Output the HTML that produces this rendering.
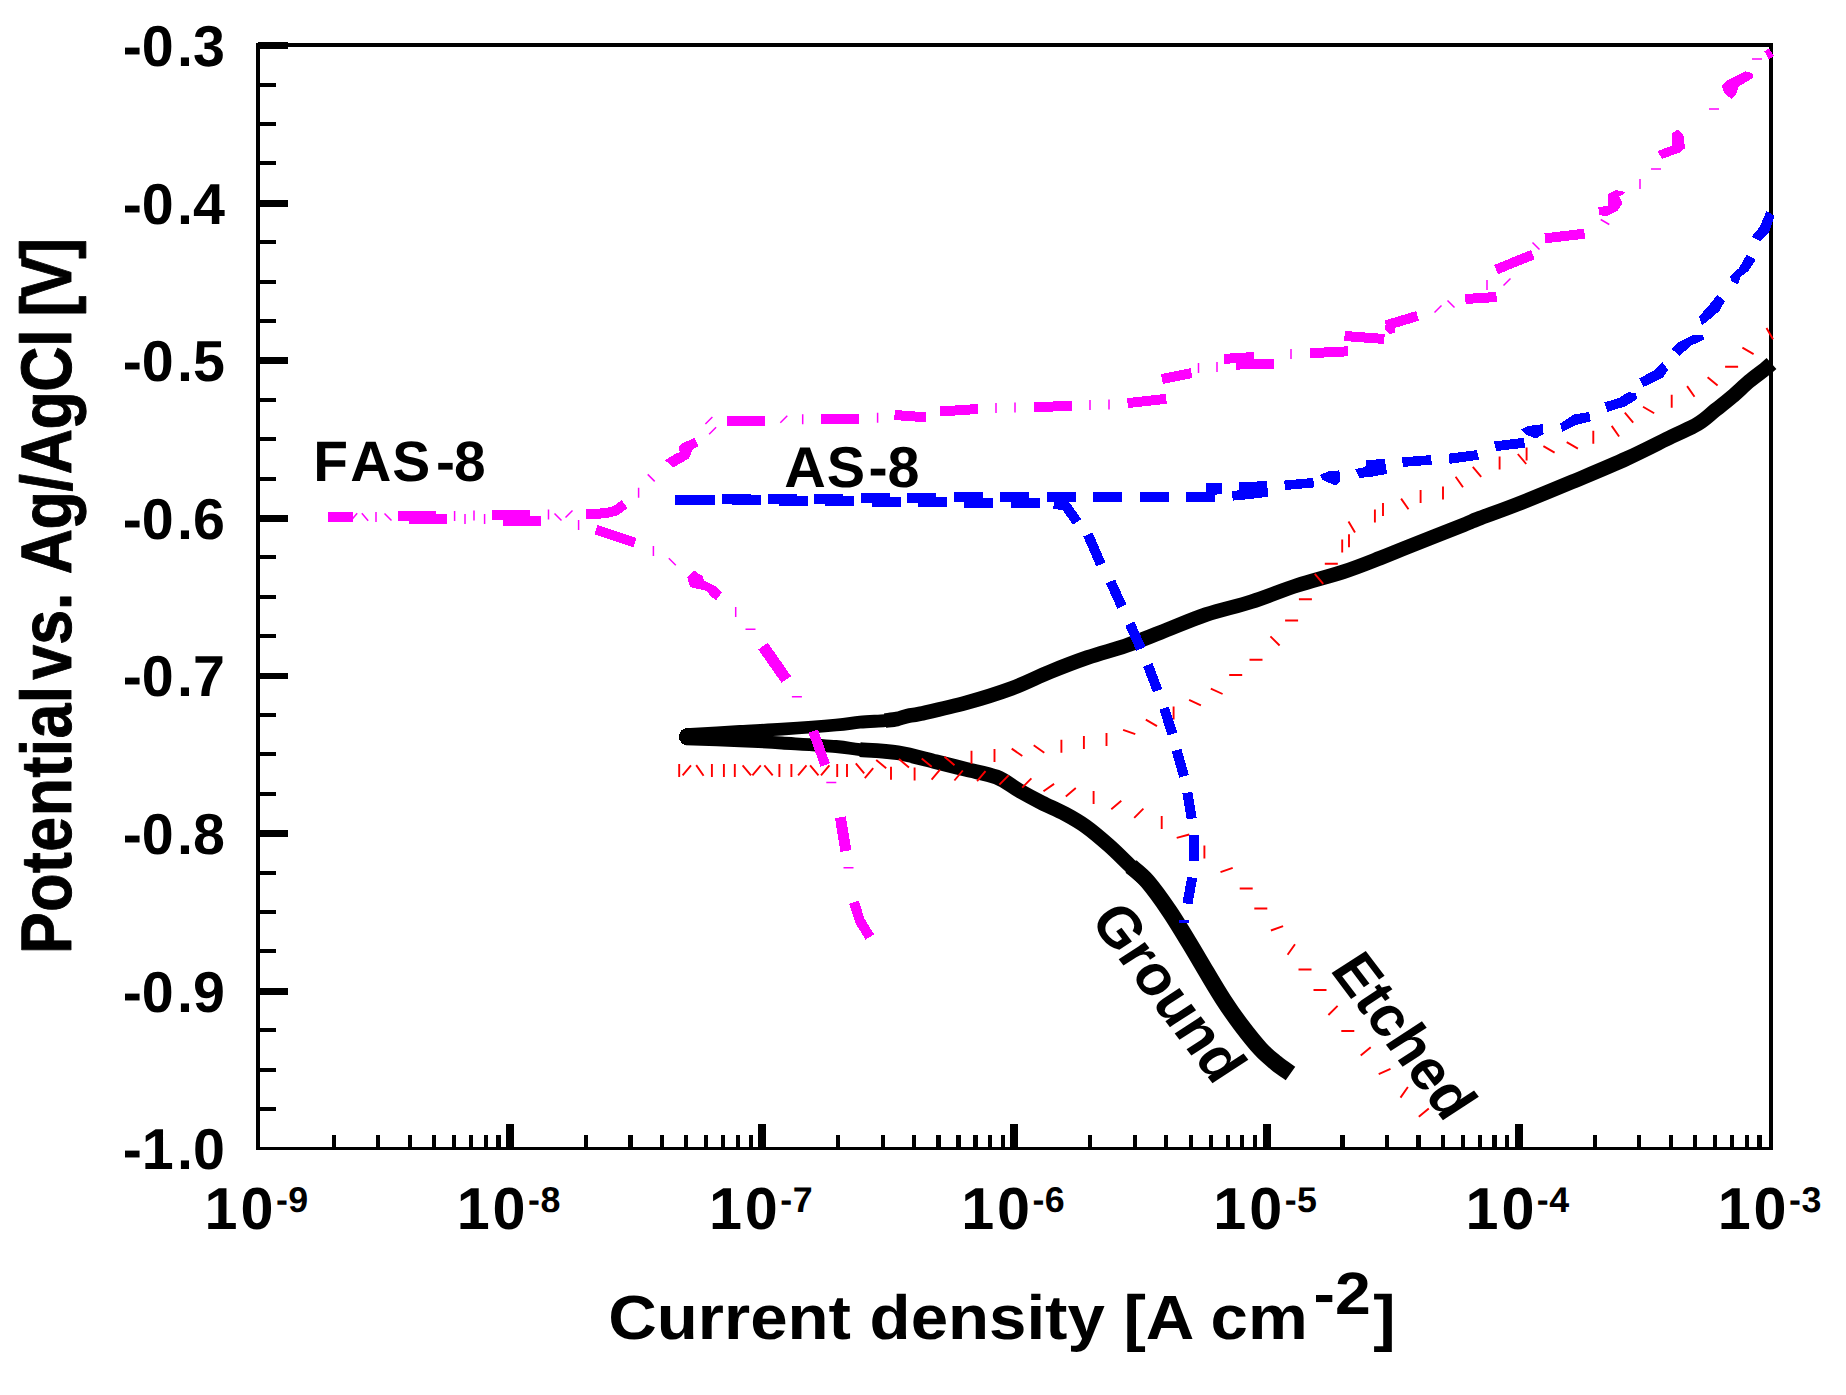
<!DOCTYPE html>
<html><head><meta charset="utf-8"><title>Polarization curves</title>
<style>
html,body{margin:0;padding:0;background:#fff;}
body{width:1846px;height:1395px;overflow:hidden;}
svg{display:block;}
text{font-family:"Liberation Sans",sans-serif;font-weight:bold;fill:#000;}
</style></head><body>
<svg width="1846" height="1395" viewBox="0 0 1846 1395" shape-rendering="crispEdges" text-rendering="geometricPrecision">
<rect width="1846" height="1395" fill="#fff"/>
<g fill="#000">
<rect x="256" y="43" width="4" height="1107"/>
<rect x="1769" y="43" width="4" height="1107"/>
<rect x="256" y="43" width="1517" height="4"/>
<rect x="256" y="1147" width="1517" height="3"/>
<rect x="257.90" y="42.20" width="30.2" height="6.8"/>
<rect x="257.90" y="82.60" width="18" height="4"/>
<rect x="257.90" y="122.01" width="18" height="4"/>
<rect x="257.90" y="161.41" width="18" height="4"/>
<rect x="257.90" y="199.81" width="30.2" height="6.8"/>
<rect x="257.90" y="240.22" width="18" height="4"/>
<rect x="257.90" y="279.62" width="18" height="4"/>
<rect x="257.90" y="319.02" width="18" height="4"/>
<rect x="257.90" y="357.43" width="30.2" height="6.8"/>
<rect x="257.90" y="397.83" width="18" height="4"/>
<rect x="257.90" y="437.24" width="18" height="4"/>
<rect x="257.90" y="476.64" width="18" height="4"/>
<rect x="257.90" y="515.04" width="30.2" height="6.8"/>
<rect x="257.90" y="555.45" width="18" height="4"/>
<rect x="257.90" y="594.85" width="18" height="4"/>
<rect x="257.90" y="634.25" width="18" height="4"/>
<rect x="257.90" y="672.66" width="30.2" height="6.8"/>
<rect x="257.90" y="713.06" width="18" height="4"/>
<rect x="257.90" y="752.46" width="18" height="4"/>
<rect x="257.90" y="791.87" width="18" height="4"/>
<rect x="257.90" y="830.27" width="30.2" height="6.8"/>
<rect x="257.90" y="870.67" width="18" height="4"/>
<rect x="257.90" y="910.08" width="18" height="4"/>
<rect x="257.90" y="949.48" width="18" height="4"/>
<rect x="257.90" y="987.89" width="30.2" height="6.8"/>
<rect x="257.90" y="1028.29" width="18" height="4"/>
<rect x="257.90" y="1067.69" width="18" height="4"/>
<rect x="257.90" y="1107.10" width="18" height="4"/>
<rect x="331.72" y="1135" width="4.2" height="13"/>
<rect x="376.13" y="1135" width="4.2" height="13"/>
<rect x="407.63" y="1135" width="4.2" height="13"/>
<rect x="432.07" y="1135" width="4.2" height="13"/>
<rect x="452.04" y="1135" width="4.2" height="13"/>
<rect x="468.93" y="1135" width="4.2" height="13"/>
<rect x="483.55" y="1135" width="4.2" height="13"/>
<rect x="496.45" y="1135" width="4.2" height="13"/>
<rect x="506.09" y="1124" width="8" height="24"/>
<rect x="583.91" y="1135" width="4.2" height="13"/>
<rect x="628.32" y="1135" width="4.2" height="13"/>
<rect x="659.83" y="1135" width="4.2" height="13"/>
<rect x="684.27" y="1135" width="4.2" height="13"/>
<rect x="704.23" y="1135" width="4.2" height="13"/>
<rect x="721.12" y="1135" width="4.2" height="13"/>
<rect x="735.74" y="1135" width="4.2" height="13"/>
<rect x="748.64" y="1135" width="4.2" height="13"/>
<rect x="758.28" y="1124" width="8" height="24"/>
<rect x="836.10" y="1135" width="4.2" height="13"/>
<rect x="880.51" y="1135" width="4.2" height="13"/>
<rect x="912.02" y="1135" width="4.2" height="13"/>
<rect x="936.46" y="1135" width="4.2" height="13"/>
<rect x="956.43" y="1135" width="4.2" height="13"/>
<rect x="973.31" y="1135" width="4.2" height="13"/>
<rect x="987.94" y="1135" width="4.2" height="13"/>
<rect x="1000.84" y="1135" width="4.2" height="13"/>
<rect x="1010.48" y="1124" width="8" height="24"/>
<rect x="1088.29" y="1135" width="4.2" height="13"/>
<rect x="1132.70" y="1135" width="4.2" height="13"/>
<rect x="1164.21" y="1135" width="4.2" height="13"/>
<rect x="1188.65" y="1135" width="4.2" height="13"/>
<rect x="1208.62" y="1135" width="4.2" height="13"/>
<rect x="1225.50" y="1135" width="4.2" height="13"/>
<rect x="1240.13" y="1135" width="4.2" height="13"/>
<rect x="1253.03" y="1135" width="4.2" height="13"/>
<rect x="1262.67" y="1124" width="8" height="24"/>
<rect x="1340.48" y="1135" width="4.2" height="13"/>
<rect x="1384.89" y="1135" width="4.2" height="13"/>
<rect x="1416.40" y="1135" width="4.2" height="13"/>
<rect x="1440.84" y="1135" width="4.2" height="13"/>
<rect x="1460.81" y="1135" width="4.2" height="13"/>
<rect x="1477.69" y="1135" width="4.2" height="13"/>
<rect x="1492.32" y="1135" width="4.2" height="13"/>
<rect x="1505.22" y="1135" width="4.2" height="13"/>
<rect x="1514.86" y="1124" width="8" height="24"/>
<rect x="1592.68" y="1135" width="4.2" height="13"/>
<rect x="1637.08" y="1135" width="4.2" height="13"/>
<rect x="1668.59" y="1135" width="4.2" height="13"/>
<rect x="1693.03" y="1135" width="4.2" height="13"/>
<rect x="1713.00" y="1135" width="4.2" height="13"/>
<rect x="1729.89" y="1135" width="4.2" height="13"/>
<rect x="1744.51" y="1135" width="4.2" height="13"/>
<rect x="1757.41" y="1135" width="4.2" height="13"/>
</g>
<path d="M686.0,734.6 C695.0,734.1 724.0,732.4 740.0,731.5 C756.0,730.6 766.0,730.3 782.0,729.2 C798.0,728.1 823.0,726.2 836.0,725.0 C849.0,723.8 851.8,722.9 860.0,722.2 C868.2,721.5 878.8,721.1 885.0,720.6 C891.2,720.1 895.0,719.3 897.0,719.0" fill="none" stroke="#000000" stroke-width="12.8" stroke-linecap="butt" stroke-linejoin="round" shape-rendering="auto"/>
<path d="M885.0,720.6 C887.0,720.3 893.2,719.8 897.0,719.0 C900.8,718.2 904.0,716.7 908.0,715.8 C912.0,714.9 911.0,715.8 920.7,713.6 C930.4,711.4 951.0,706.9 966.2,702.7 C981.4,698.5 997.8,693.4 1011.7,688.3 C1025.6,683.2 1037.0,677.0 1049.6,671.9 C1062.2,666.8 1074.9,661.9 1087.5,657.5 C1100.1,653.1 1113.2,650.0 1125.4,645.8 C1137.6,641.6 1147.2,637.6 1160.7,632.4 C1174.2,627.2 1191.0,619.6 1206.2,614.5 C1221.4,609.4 1236.5,606.5 1251.7,601.6 C1266.9,596.8 1282.0,590.3 1297.2,585.4 C1312.4,580.5 1328.9,576.5 1342.7,572.0 C1356.5,567.5 1369.0,562.4 1380.0,558.1 C1391.0,553.9 1395.0,552.0 1408.9,546.5 C1422.8,541.0 1451.9,529.6 1463.4,525.0 C1474.9,520.4 1468.9,522.4 1478.0,518.9 C1487.1,515.4 1502.2,510.2 1517.9,504.0 C1533.6,497.8 1554.2,489.4 1572.3,481.8 C1590.4,474.2 1610.2,466.1 1626.8,458.5 C1643.4,450.9 1660.0,442.2 1671.8,436.5 C1683.6,430.8 1690.4,428.3 1697.6,424.0 C1704.8,419.7 1709.1,415.1 1714.8,410.6 C1720.5,406.1 1726.3,401.7 1732.0,396.8 C1737.7,391.9 1743.8,385.9 1749.2,381.3 C1754.7,376.7 1761.0,372.3 1764.7,369.3 C1768.4,366.3 1770.4,364.5 1771.5,363.5" fill="none" stroke="#000000" stroke-width="14.6" stroke-linecap="butt" stroke-linejoin="round" shape-rendering="auto"/>
<path d="M686.0,738.8 C695.0,739.1 724.0,740.1 740.0,740.8 C756.0,741.5 766.0,742.0 782.0,743.0 C798.0,744.0 823.0,745.4 836.0,746.5 C849.0,747.6 849.7,748.7 860.0,749.7 C870.3,750.8 891.6,752.3 897.9,752.8" fill="none" stroke="#000000" stroke-width="12.8" stroke-linecap="butt" stroke-linejoin="round" shape-rendering="auto"/>
<path d="M860.0,749.7 C866.3,750.2 885.3,750.8 897.9,752.8 C910.5,754.8 924.4,759.0 935.8,761.8 C947.2,764.6 956.1,766.9 966.2,769.4 C976.3,771.9 987.6,773.5 996.5,777.0 C1005.4,780.5 1011.7,786.3 1019.3,790.6 C1026.9,794.9 1034.4,798.9 1042.0,802.8 C1049.6,806.6 1057.5,809.8 1064.8,813.7 C1072.0,817.6 1078.1,820.9 1085.5,826.2 C1092.9,831.5 1101.4,838.8 1109.0,845.5 C1116.6,852.2 1124.6,860.5 1131.0,866.5 C1137.4,872.5 1144.8,879.0 1147.5,881.5" fill="none" stroke="#000000" stroke-width="14.8" stroke-linecap="butt" stroke-linejoin="round" shape-rendering="auto"/>
<path d="M1131.0,866.5 C1133.8,869.0 1141.1,874.0 1147.5,881.5 C1153.9,889.0 1162.7,901.3 1169.5,911.3 C1176.3,921.3 1182.3,931.6 1188.5,941.7 C1194.7,951.8 1200.7,962.3 1206.5,972.0 C1212.3,981.7 1217.8,991.1 1223.5,999.9 C1229.2,1008.7 1234.8,1016.8 1241.0,1025.0 C1247.2,1033.2 1254.7,1042.7 1260.5,1049.0 C1266.3,1055.3 1271.0,1058.9 1276.0,1063.0 C1281.0,1067.1 1288.1,1071.8 1290.5,1073.5" fill="none" stroke="#000000" stroke-width="16.5" stroke-linecap="butt" stroke-linejoin="round" shape-rendering="auto"/>
<ellipse cx="687" cy="736.7" rx="8" ry="8.6" fill="#000000"/>
<path d="M679.2,776.9L679.2,763.9 M682.6,775.4L691.0,765.4 M703.6,775.7L696.2,765.1 M711.9,776.9L711.9,763.9 M723.9,776.9L723.9,763.9 M734.8,776.9L734.8,763.9 M751.0,775.4L742.6,765.4 M752.4,775.4L760.8,765.4 M772.7,775.4L764.3,765.4 M779.4,776.9L779.4,763.9 M791.4,776.9L791.4,763.9 M798.1,775.4L806.5,765.4 M818.5,775.4L810.1,765.4 M821.0,775.4L829.4,765.4 M837.2,776.9L837.2,763.9 M847.0,776.9L847.0,763.9" fill="none" stroke="#ff0000" stroke-width="1.9" shape-rendering="auto"/>
<path d="M864.8,778.2L873.2,768.2 M891.0,779.7L891.0,766.7 M914.6,780.5L914.6,767.5 M931.6,779.7L940.0,769.7 M954.4,780.5L962.8,770.5 M977.1,781.2L985.5,771.2 M999.4,784.6L1008.6,775.4 M1022.2,787.6L1031.4,778.4 M1043.5,791.3L1054.1,783.9 M1065.8,796.4L1075.8,788.0 M1093.6,804.0L1093.6,791.0 M1111.3,809.2L1121.3,800.8 M1134.2,817.9L1143.4,808.7 M1161.7,828.9L1161.7,815.9 M1176.7,837.9L1189.3,834.5 M1204.4,858.4L1204.4,845.4 M1220.5,872.2L1232.7,867.8 M1239.7,888.5L1252.7,888.5 M1254.3,908.5L1267.3,908.5 M1270.9,930.5L1283.1,926.1 M1287.6,954.8L1295.0,944.2 M1298.5,969.5L1311.5,969.5 M1313.5,990.0L1326.5,990.0 M1328.4,1015.0L1337.6,1005.8 M1341.3,1031.0L1354.3,1031.0 M1360.7,1055.6L1370.7,1047.2 M1378.7,1074.2L1390.5,1068.8 M1400.5,1097.6L1407.9,1087.0 M1418.8,1116.8L1428.8,1108.4" fill="none" stroke="#ff0000" stroke-width="1.9" shape-rendering="auto"/>
<path d="M864.2,773.3L855.8,763.3 M886.2,768.3L876.2,759.9 M909.0,767.5L899.0,759.1 M931.7,766.8L921.7,758.4 M954.5,765.2L944.5,756.8 M971.5,763.8L971.5,750.8 M994.5,761.9L994.5,748.9 M1022.3,756.0L1011.7,748.6 M1044.3,752.7L1033.7,745.3 M1061.4,752.8L1061.4,739.8 M1083.9,748.9L1083.9,735.9 M1106.5,745.9L1106.5,732.9 M1135.3,734.2L1123.1,729.8 M1157.0,726.1L1145.8,719.6 M1173.6,719.5L1173.6,706.5 M1200.9,705.3L1189.1,699.9 M1222.6,694.0L1210.8,688.6 M1229.2,675.0L1242.2,675.0 M1249.5,659.7L1262.5,659.7 M1279.6,645.5L1270.4,636.3 M1285.1,620.5L1298.1,620.5 M1298.9,599.2L1311.9,599.2 M1323.2,583.8L1314.8,573.8 M1324.8,563.8L1337.8,563.8 M1342.2,552.5L1342.2,539.5 M1349.0,547.2L1349.0,534.2 M1355.0,532.6L1348.5,521.4 M1374.9,522.5L1374.9,509.5 M1383.0,515.9L1383.0,502.9 M1408.5,509.2L1401.1,498.6 M1420.6,503.1L1420.6,490.1 M1443.0,499.5L1443.0,486.5 M1463.0,487.3L1455.6,476.7 M1481.2,476.8L1472.8,466.8 M1499.6,469.5L1499.6,456.5 M1526.2,464.0L1517.8,454.0 M1526.6,460.5L1526.6,447.5 M1554.6,452.6L1543.4,446.1 M1577.9,448.6L1566.7,442.1 M1593.3,443.7L1593.3,430.7 M1619.1,436.5L1611.7,425.9 M1633.2,422.6L1624.8,412.6 M1654.2,413.2L1643.0,406.8 M1671.7,407.7L1671.7,394.7 M1694.5,396.7L1687.1,386.1 M1717.6,385.6L1707.6,377.2 M1725.1,366.8L1738.1,366.8 M1753.6,354.1L1742.4,347.6 M1773.0,339.2L1766.5,328.0" fill="none" stroke="#ff0000" stroke-width="1.9" shape-rendering="auto"/>
<path d="M675.0,499.8 L704.0,499.8" fill="none" stroke="#0000ff" stroke-width="10" stroke-linecap="butt" stroke-linejoin="round" />
<path d="M721.5,499.4 L750.5,499.4" fill="none" stroke="#0000ff" stroke-width="10" stroke-linecap="butt" stroke-linejoin="round" />
<path d="M767.9,499.0 L796.9,499.0" fill="none" stroke="#0000ff" stroke-width="10" stroke-linecap="butt" stroke-linejoin="round" />
<path d="M814.4,498.6 L843.4,498.6" fill="none" stroke="#0000ff" stroke-width="10" stroke-linecap="butt" stroke-linejoin="round" />
<path d="M860.8,498.2 L889.8,498.2" fill="none" stroke="#0000ff" stroke-width="10" stroke-linecap="butt" stroke-linejoin="round" />
<path d="M907.2,497.8 L936.2,497.8" fill="none" stroke="#0000ff" stroke-width="10" stroke-linecap="butt" stroke-linejoin="round" />
<path d="M953.7,497.4 L982.7,497.4" fill="none" stroke="#0000ff" stroke-width="10" stroke-linecap="butt" stroke-linejoin="round" />
<path d="M1000.2,497.0 L1029.2,497.0" fill="none" stroke="#0000ff" stroke-width="10" stroke-linecap="butt" stroke-linejoin="round" />
<path d="M1046.6,497.0 L1075.6,497.0" fill="none" stroke="#0000ff" stroke-width="10" stroke-linecap="butt" stroke-linejoin="round" />
<path d="M1093.0,497.0 L1122.0,497.0" fill="none" stroke="#0000ff" stroke-width="10" stroke-linecap="butt" stroke-linejoin="round" />
<path d="M1139.5,497.0 L1168.5,497.0" fill="none" stroke="#0000ff" stroke-width="10" stroke-linecap="butt" stroke-linejoin="round" />
<path d="M685.7,499.8 L714.7,499.8" fill="none" stroke="#0000ff" stroke-width="10" stroke-linecap="butt" stroke-linejoin="round" />
<path d="M732.2,500.3 L761.2,500.3" fill="none" stroke="#0000ff" stroke-width="10" stroke-linecap="butt" stroke-linejoin="round" />
<path d="M778.6,500.8 L807.6,500.8" fill="none" stroke="#0000ff" stroke-width="10" stroke-linecap="butt" stroke-linejoin="round" />
<path d="M825.1,501.3 L854.1,501.3" fill="none" stroke="#0000ff" stroke-width="10" stroke-linecap="butt" stroke-linejoin="round" />
<path d="M871.5,501.9 L900.5,501.9" fill="none" stroke="#0000ff" stroke-width="10" stroke-linecap="butt" stroke-linejoin="round" />
<path d="M918.0,502.4 L947.0,502.4" fill="none" stroke="#0000ff" stroke-width="10" stroke-linecap="butt" stroke-linejoin="round" />
<path d="M964.4,502.9 L993.4,502.9" fill="none" stroke="#0000ff" stroke-width="10" stroke-linecap="butt" stroke-linejoin="round" />
<path d="M1010.9,503.4 L1039.9,503.4" fill="none" stroke="#0000ff" stroke-width="10" stroke-linecap="butt" stroke-linejoin="round" />
<path d="M1054.0,503.5 L1066.0,506.0 L1077.0,522.0" fill="none" stroke="#0000ff" stroke-width="10" stroke-linecap="butt" stroke-linejoin="round" />
<path d="M1087.9,534.5 L1100.9,564.4" fill="none" stroke="#0000ff" stroke-width="10" stroke-linecap="butt" stroke-linejoin="round" />
<path d="M1110.5,581.5 L1121.9,606.6" fill="none" stroke="#0000ff" stroke-width="10" stroke-linecap="butt" stroke-linejoin="round" />
<path d="M1129.8,623.7 L1141.0,648.8" fill="none" stroke="#0000ff" stroke-width="10" stroke-linecap="butt" stroke-linejoin="round" />
<path d="M1147.8,664.9 L1157.6,690.7" fill="none" stroke="#0000ff" stroke-width="10" stroke-linecap="butt" stroke-linejoin="round" />
<path d="M1164.1,708.2 L1172.5,734.0" fill="none" stroke="#0000ff" stroke-width="10" stroke-linecap="butt" stroke-linejoin="round" />
<path d="M1176.5,750.1 L1184.1,776.3" fill="none" stroke="#0000ff" stroke-width="10" stroke-linecap="butt" stroke-linejoin="round" />
<path d="M1187.4,792.6 L1191.7,818.7" fill="none" stroke="#0000ff" stroke-width="10" stroke-linecap="butt" stroke-linejoin="round" />
<path d="M1193.5,835.1 L1193.5,861.2" fill="none" stroke="#0000ff" stroke-width="10" stroke-linecap="butt" stroke-linejoin="round" />
<path d="M1192.2,877.6 L1187.4,903.7" fill="none" stroke="#0000ff" stroke-width="10" stroke-linecap="butt" stroke-linejoin="round" />
<path d="M1179.0,921.6 L1189.0,921.6" fill="none" stroke="#0000ff" stroke-width="3" stroke-linecap="butt" stroke-linejoin="round" />
<path d="M328.0,517.4 L352.7,517.4" fill="none" stroke="#ff00ff" stroke-width="10" stroke-linecap="butt" stroke-linejoin="round" />
<path d="M398.0,516.0 L435.8,516.0" fill="none" stroke="#ff00ff" stroke-width="10" stroke-linecap="butt" stroke-linejoin="round" />
<path d="M409.4,518.8 L447.2,518.8" fill="none" stroke="#ff00ff" stroke-width="10" stroke-linecap="butt" stroke-linejoin="round" />
<path d="M492.0,515.0 L530.0,515.0" fill="none" stroke="#ff00ff" stroke-width="10" stroke-linecap="butt" stroke-linejoin="round" />
<path d="M503.0,521.0 L541.0,521.0" fill="none" stroke="#ff00ff" stroke-width="10" stroke-linecap="butt" stroke-linejoin="round" />
<path d="M585.9,514.3 L606.0,513.2 L616.0,510.5 L624.5,504.0" fill="none" stroke="#ff00ff" stroke-width="10" stroke-linecap="butt" stroke-linejoin="round" />
<path d="M727.0,420.5 L765.0,420.5" fill="none" stroke="#ff00ff" stroke-width="10" stroke-linecap="butt" stroke-linejoin="round" />
<path d="M820.8,418.7 L858.7,418.7" fill="none" stroke="#ff00ff" stroke-width="10" stroke-linecap="butt" stroke-linejoin="round" />
<path d="M894.5,415.0 L926.0,417.3" fill="none" stroke="#ff00ff" stroke-width="10" stroke-linecap="butt" stroke-linejoin="round" />
<path d="M940.0,411.5 L978.0,409.0" fill="none" stroke="#ff00ff" stroke-width="10" stroke-linecap="butt" stroke-linejoin="round" />
<path d="M1034.0,407.0 L1072.0,406.0" fill="none" stroke="#ff00ff" stroke-width="10" stroke-linecap="butt" stroke-linejoin="round" />
<path d="M1127.5,403.1 L1166.3,398.8" fill="none" stroke="#ff00ff" stroke-width="10" stroke-linecap="butt" stroke-linejoin="round" />
<path d="M1162.0,379.0 L1191.6,373.1" fill="none" stroke="#ff00ff" stroke-width="10" stroke-linecap="butt" stroke-linejoin="round" />
<path d="M1223.9,358.9 L1254.0,357.0" fill="none" stroke="#ff00ff" stroke-width="10" stroke-linecap="butt" stroke-linejoin="round" />
<path d="M1236.0,364.6 L1274.2,363.6" fill="none" stroke="#ff00ff" stroke-width="10" stroke-linecap="butt" stroke-linejoin="round" />
<path d="M1310.0,353.2 L1348.0,351.3" fill="none" stroke="#ff00ff" stroke-width="10" stroke-linecap="butt" stroke-linejoin="round" />
<path d="M1344.5,336.0 L1384.4,339.0" fill="none" stroke="#ff00ff" stroke-width="10" stroke-linecap="butt" stroke-linejoin="round" />
<path d="M1385.8,325.4 L1417.6,315.9" fill="none" stroke="#ff00ff" stroke-width="10" stroke-linecap="butt" stroke-linejoin="round" />
<path d="M1465.3,299.0 L1496.6,297.0" fill="none" stroke="#ff00ff" stroke-width="10" stroke-linecap="butt" stroke-linejoin="round" />
<path d="M1496.0,269.6 L1532.8,254.6" fill="none" stroke="#ff00ff" stroke-width="10" stroke-linecap="butt" stroke-linejoin="round" />
<path d="M1545.0,238.3 L1584.6,233.7" fill="none" stroke="#ff00ff" stroke-width="10" stroke-linecap="butt" stroke-linejoin="round" />
<path d="M596.1,529.7 L634.9,542.6" fill="none" stroke="#ff00ff" stroke-width="10" stroke-linecap="butt" stroke-linejoin="round" />
<path d="M813.2,731.2 L825.2,765.0" fill="none" stroke="#ff00ff" stroke-width="10" stroke-linecap="butt" stroke-linejoin="round" />
<path d="M840.4,817.3 L845.9,851.0" fill="none" stroke="#ff00ff" stroke-width="10" stroke-linecap="butt" stroke-linejoin="round" />
<path d="M853.9,902.2 L860.0,921.0 L869.8,937.0" fill="none" stroke="#ff00ff" stroke-width="10" stroke-linecap="butt" stroke-linejoin="round" />
<path d="M763.0,646.1 L786.3,679.5" fill="none" stroke="#ff00ff" stroke-width="11.6" stroke-linecap="butt" stroke-linejoin="round" />
<path d="M840.4,817.3 L845.9,851.0" fill="none" stroke="#ff00ff" stroke-width="11" stroke-linecap="butt" stroke-linejoin="round" />
<path d="M350.8,520.8L357.2,513.2 M368.2,520.8L361.8,513.2 M376.0,522.0L376.0,512.0 M391.5,520.5L384.5,513.5 M454.6,521.0L454.6,511.0 M465.0,524.0L465.0,514.0 M474.0,520.5L474.0,510.5 M484.6,524.0L484.6,514.0 M548.5,519.5L548.5,509.5 M561.5,520.5L554.5,513.5 M565.5,517.5L572.5,510.5 M578.6,530.0L578.6,520.0 M638.6,497.7L638.6,487.7 M654.7,481.4L647.7,474.4 M705.4,424.0L712.4,417.0 M709.1,434.2L716.1,427.2 M780.3,422.7L787.3,415.7 M802.7,424.2L802.7,414.2 M877.6,422.7L877.6,412.7 M996.0,413.0L996.0,403.0 M1015.0,412.5L1015.0,402.5 M1090.0,410.0L1090.0,400.0 M1109.0,409.5L1109.0,399.5 M1198.5,373.0L1198.5,363.0 M1217.0,372.0L1217.0,362.0 M1291.0,359.0L1291.0,349.0 M1434.5,312.5L1441.5,305.5 M1454.5,307.5L1447.5,300.5 M1487.0,290.0L1487.0,280.0 M1503.5,285.5L1510.5,278.5 M1539.5,249.5L1532.5,242.5 M1609.3,224.5L1600.7,219.5 M1640.0,189.0L1640.0,179.0 M1651.0,169.0L1661.0,169.0 M1709.0,109.0L1719.0,109.0 M1752.0,59.0L1762.0,59.0 M653.4,555.9L653.4,545.9 M675.8,565.2L668.8,558.2 M735.7,617.0L735.7,607.0 M745.5,629.2L755.5,629.2 M791.9,696.8L801.9,696.8 M826.3,782.4L836.3,782.4 M843.5,867.8L853.5,867.8" fill="none" stroke="#ff00ff" stroke-width="1.5" shape-rendering="auto"/>
<polygon points="1598.2,207.5 1607.7,205.6 1607.7,193.9 1615.9,190.1 1625.4,192.0 1622.7,194.7 1619.2,196.6 1622.7,202.9 1617.3,211.1 1606.4,216.5 1599.6,215.1" fill="#ff00ff"/>
<polygon points="1657.3,151.1 1671.7,145.7 1671.7,133.4 1678.0,129.4 1684.0,136.2 1684.8,148.4 1679.9,152.5 1662.2,158.8" fill="#ff00ff"/>
<polygon points="1721.6,85.8 1727.6,80.3 1745.3,71.4 1752.1,73.0 1753.4,77.6 1738.5,86.6 1735.7,95.3 1731.6,98.6 1724.8,94.0" fill="#ff00ff"/>
<polygon points="1764.3,51.2 1769.0,48.5 1773.9,55.8 1769.0,59.4" fill="#ff00ff"/>
<polygon points="1385.2,325.4 1395.3,322.7 1394.8,332.8 1389.9,333.9 1385.2,329.5" fill="#ff00ff"/>
<polygon points="1185.7,492.0 1206.2,491.5 1206.2,483.3 1222.1,483.3 1222.1,494.2 1214.6,494.7 1214.6,501.5 1185.7,501.5" fill="#0000ff"/>
<polygon points="1231.9,491.5 1238.7,490.1 1238.7,482.4 1266.9,481.0 1268.3,496.5 1260.8,497.7 1248.3,499.2 1232.8,500.6" fill="#0000ff"/>
<polygon points="1284.2,480.6 1313.1,477.9 1314.2,487.4 1285.1,490.1" fill="#0000ff"/>
<polygon points="1319.9,474.9 1327.9,471.5 1339.3,470.4 1340.4,480.6 1335.9,485.6 1329.0,482.9 1322.2,479.5" fill="#0000ff"/>
<polygon points="1355.2,469.2 1365.4,466.9 1366.1,460.1 1384.8,459.0 1387.1,473.8 1373.4,476.5 1359.7,477.9" fill="#0000ff"/>
<polygon points="1401.8,457.4 1430.7,455.1 1432.1,464.7 1403.0,466.9" fill="#0000ff"/>
<polygon points="1448.5,453.7 1476.9,450.1 1479.2,459.7 1449.6,463.8" fill="#0000ff"/>
<polygon points="1494.0,441.5 1523.6,437.8 1525.4,447.6 1496.3,451.0" fill="#0000ff"/>
<polygon points="1520.8,429.4 1528.1,426.0 1542.9,424.2 1543.6,433.9 1536.1,438.5 1525.8,434.6" fill="#0000ff"/>
<polygon points="1560.0,423.7 1573.6,414.6 1589.1,411.9 1590.7,421.4 1577.0,424.8 1562.3,431.7" fill="#0000ff"/>
<polygon points="1604.2,402.5 1618.5,398.2 1628.0,392.2 1635.7,393.0 1637.1,399.0 1625.4,406.4 1607.3,411.9" fill="#0000ff"/>
<polygon points="1639.1,378.4 1653.8,370.6 1662.4,362.0 1668.0,369.8 1663.2,377.5 1643.4,387.0" fill="#0000ff"/>
<polygon points="1671.8,349.1 1678.7,342.3 1694.2,334.5 1702.8,334.5 1704.2,339.7 1690.8,345.7 1679.6,356.0" fill="#0000ff"/>
<polygon points="1699.0,316.5 1709.7,304.4 1717.4,294.9 1724.8,301.0 1720.0,310.4 1707.1,321.6 1701.9,325.1" fill="#0000ff"/>
<polygon points="1730.0,276.0 1738.9,268.3 1746.7,254.5 1755.8,259.7 1748.4,270.9 1740.6,276.9 1738.1,284.6 1731.2,281.2" fill="#0000ff"/>
<polygon points="1751.8,236.5 1759.6,227.0 1766.5,211.0 1774.7,215.8 1769.0,232.2 1760.4,241.6" fill="#0000ff"/>
<polygon points="665.0,460.1 675.3,453.9 679.8,452.4 678.7,447.1 682.1,443.3 694.6,438.0 698.7,446.0 692.8,449.4 688.9,458.5 673.0,467.6" fill="#ff00ff"/>
<polygon points="687.3,576.8 694.1,570.4 697.8,573.1 702.4,575.9 703.9,580.5 715.4,586.1 721.9,592.6 716.3,600.0 711.7,597.2 706.1,590.7 697.8,588.9 690.4,587.0 688.6,582.4" fill="#ff00ff"/>
<text transform="translate(0,66.02) scale(0.9940,1)" x="123.44 142.67 178.05 194.09" y="0" font-size="57.75" >-0.3</text>
<text transform="translate(0,223.64) scale(0.9940,1)" x="123.44 142.67 178.05 194.09" y="0" font-size="57.75" >-0.4</text>
<text transform="translate(0,381.25) scale(0.9940,1)" x="123.44 142.67 178.05 194.09" y="0" font-size="57.75" >-0.5</text>
<text transform="translate(0,538.87) scale(0.9940,1)" x="123.44 142.67 178.05 194.09" y="0" font-size="57.75" >-0.6</text>
<text transform="translate(0,696.48) scale(0.9940,1)" x="123.44 142.67 178.05 194.09" y="0" font-size="57.75" >-0.7</text>
<text transform="translate(0,854.09) scale(0.9940,1)" x="123.44 142.67 178.05 194.09" y="0" font-size="57.75" >-0.8</text>
<text transform="translate(0,1011.71) scale(0.9940,1)" x="123.44 142.67 178.05 194.09" y="0" font-size="57.75" >-0.9</text>
<text transform="translate(0,1169.32) scale(0.9940,1)" x="123.44 142.67 178.05 194.09" y="0" font-size="57.75" >-1.0</text>
<text transform="translate(0,1228.6) scale(1.0000,1)" x="204.56 240.43" y="0" font-size="59.30">10<tspan x="275.92 288.27" y="-16.6" font-size="35.80">-9</tspan></text>
<text transform="translate(0,1228.6) scale(1.0000,1)" x="456.75 492.62" y="0" font-size="59.30">10<tspan x="528.11 540.46" y="-16.6" font-size="35.80">-8</tspan></text>
<text transform="translate(0,1228.6) scale(1.0000,1)" x="708.94 744.81" y="0" font-size="59.30">10<tspan x="780.30 792.65" y="-16.6" font-size="35.80">-7</tspan></text>
<text transform="translate(0,1228.6) scale(1.0000,1)" x="961.13 997.00" y="0" font-size="59.30">10<tspan x="1032.49 1044.84" y="-16.6" font-size="35.80">-6</tspan></text>
<text transform="translate(0,1228.6) scale(1.0000,1)" x="1213.33 1249.19" y="0" font-size="59.30">10<tspan x="1284.68 1297.03" y="-16.6" font-size="35.80">-5</tspan></text>
<text transform="translate(0,1228.6) scale(1.0000,1)" x="1465.52 1501.39" y="0" font-size="59.30">10<tspan x="1536.87 1549.23" y="-16.6" font-size="35.80">-4</tspan></text>
<text transform="translate(0,1228.6) scale(1.0000,1)" x="1717.71 1753.58" y="0" font-size="59.30">10<tspan x="1789.07 1801.42" y="-16.6" font-size="35.80">-3</tspan></text>
<text transform="translate(0,1338.6) scale(1.0769,1)" x="564.86" y="0" font-size="62.40">Current density [A cm<tspan x="1219.75" y="-24.90" font-size="59.71">-2</tspan><tspan x="1275.23" y="0">]</tspan></text>
<text transform="translate(70.6,950.3) rotate(-90) scale(0.8750,1)" x="-4.35 44.14 88.41 112.76 153.25 197.52 221.71 242.08 282.38 293.81 309.25 349.08 388.90 400.33 429.74 480.98 524.40 543.94 595.17 638.44 689.79 701.21 724.25 745.37 790.39" y="0" font-size="71.59" stroke="#000" stroke-width="0.9" stroke-linejoin="round">Potential vs. Ag/AgCl [V]</text>
<text transform="translate(0,481.2) scale(1.0000,1)" x="313.20 350.28 392.29 436.02 454.09" y="0" font-size="56.90" >FAS-8</text>
<text transform="translate(0,487.0) scale(1.0000,1)" x="784.16 826.67 868.60 887.38" y="0" font-size="57.50" >AS-8</text>
<text transform="translate(1089.1,920.3) scale(1.08,1) rotate(55.0)" font-size="56.2">Ground</text>
<text transform="translate(1329.3,969.9) scale(1.08,1) rotate(55.0)" font-size="56.2">Etched</text>
</svg>
</body></html>
